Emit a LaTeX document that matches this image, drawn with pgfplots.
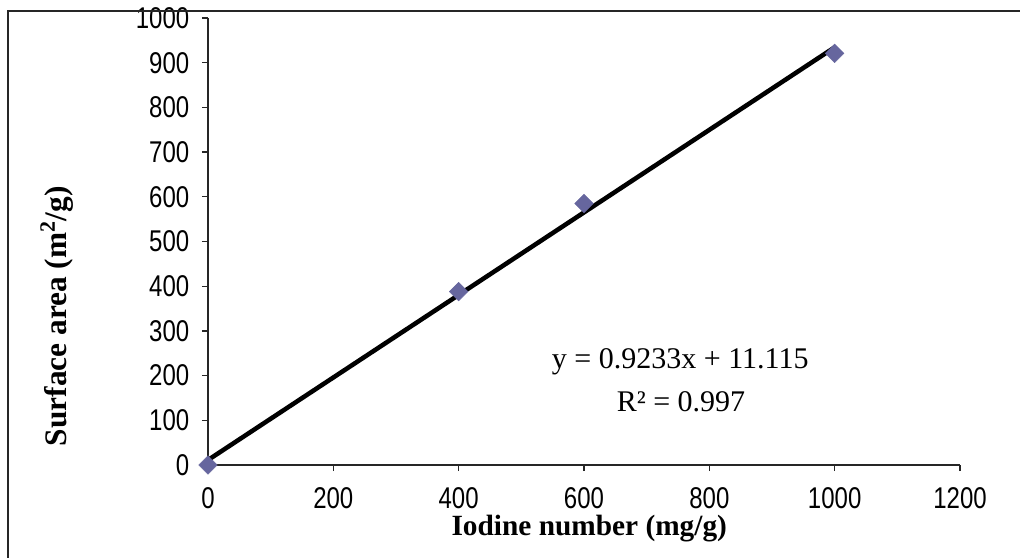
\documentclass[border=0pt]{standalone}
\usepackage{pgfplots}
\pgfplotsset{compat=1.18}
\usepackage{fontspec}
\setmainfont{Liberation Serif}
\newfontfamily\arialf{Liberation Sans}
\definecolor{mk}{RGB}{102,102,158}
\begin{document}
\begin{tikzpicture}
\begin{axis}[
  at={(0,0)}, anchor=south west,
  scale only axis,
  width=564pt, height=335.25pt,
  xmin=0, xmax=1200, ymin=0, ymax=1000,
  axis x line*=bottom, axis y line*=left,
  axis line style={-, line width=1.1pt, color=black!85},
  xtick={0,200,...,1200}, ytick={0,100,...,1000},
  tick align=outside,
  major tick length=4.5pt,
  tick style={line width=1pt, color=black!85},
  /pgf/number format/assume math mode=true,
  /pgf/number format/1000 sep={},
  ticklabel style={font=\arialf\fontsize{18}{20}\selectfont, text=black, yscale=1.25},
  xticklabel style={yshift=-9pt, inner sep=0.5pt},
  yticklabel style={xshift=-6pt},
  clip=false,
]
\addplot[only marks, mark=square*, mark size=4.9pt, mark options={rotate=45}, color=mk, fill=mk]
  coordinates {(0,0) (400,388) (600,585) (1000,921)};
\addplot[black, line width=3.4pt] coordinates {(0,11.115) (1000,934.415)};
\node[font=\bfseries\fontsize{22}{24}\selectfont, inner sep=0pt] at (rel axis cs:0.507,-0.143) {Iodine number (mg/g)};
\node[font=\bfseries\fontsize{23.5}{25}\selectfont, rotate=90] at (rel axis cs:-0.2008,0.333) {Surface area (m\textsuperscript{2}/g)};
\node[font=\fontsize{22.5}{24}\selectfont] at (rel axis cs:0.628,0.232) {y = 0.9233x + 11.115};
\node[font=\fontsize{22.5}{24}\selectfont] at (rel axis cs:0.629,0.141) {R² = 0.997};
\end{axis}
\draw[line width=1.1pt, black!85] (-150pt,-80pt) -- (-150pt,340.5pt) -- (620pt,340.5pt);
\pgfresetboundingbox
\useasboundingbox (-156pt,-69pt) rectangle (609pt,348.75pt);
\end{tikzpicture}
\end{document}
